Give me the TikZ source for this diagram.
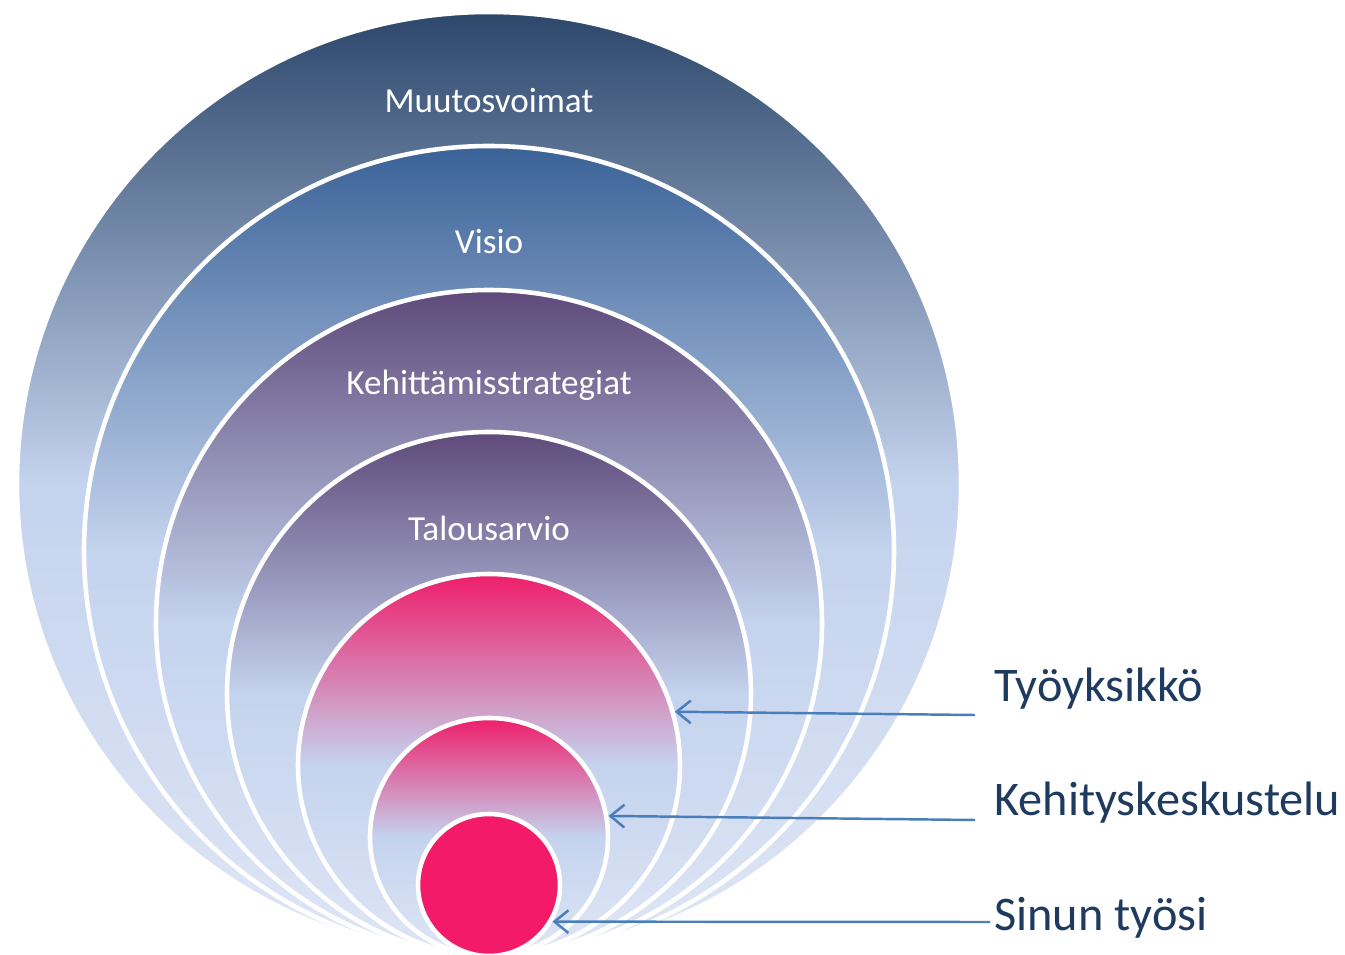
\documentclass[tikz,border=0pt]{standalone}
\usepackage{fontspec}
\setmainfont{Carlito}
\usepackage{xcolor}
\usetikzlibrary{arrows.meta,positioning}
\definecolor{navytop}{HTML}{2C476B}
\definecolor{bluetop}{HTML}{3A6297}
\definecolor{purpletop}{HTML}{5E4A7A}
\definecolor{pinktop}{HTML}{EE1E6B}
\definecolor{pinkdot}{HTML}{F21A69}
\definecolor{paleblue}{HTML}{C4D3EE}
\definecolor{palest}{HTML}{DFE6F5}
\definecolor{textnavy}{HTML}{1E3A5E}
\definecolor{arrowblue}{HTML}{4A7EBB}
\tikzset{
  every picture/.style = {
    x = 0.02cm,
    y = 0.02cm,
  }
  ,
  ring/.style = {
    circle,
    inner sep = 0pt,
    draw = white,
    line width = 2.6pt,
    minimum size = 2*#1*0.02cm
  }
  , % fading from the ring colour down to pale blue
  shade/.style = {
    top color = #1,
    bottom color = palest,
    middle color = paleblue
  }
  , % labels inside the rings
  label-ring/.style = {
    text = white,
    font = \fontsize{20}{24}\selectfont
  }
  , % labels on the right
  label-side/.style = {
    anchor = west,
    inner sep = 0pt,
    text = textnavy,
    font = \fontsize{27.5}{32}\selectfont
  }
  ,
  pointer/.style = {
    draw = arrowblue,
    line width = 1.4pt,
    -{Straight Barb[length=8pt,width=13pt]}
  }
}
\begin{document}
\begin{tikzpicture}
\useasboundingbox (0,0) rectangle (1345,954);
\node[ring=472, shade=navytop] at (489,470) (c1) {};
\node[ring=405, shade=bluetop] at (489,403) (c2) {};
\node[ring=333, shade=purpletop] at (489,331) (c3) {};
\node[ring=262, shade=purpletop] at (489,260) (c4) {};
\node[ring=191, shade=pinktop] at (489,189) (c5) {};
\node[ring=119, shade=pinktop] at (489,117) (c6) {};
\node[ring=71, fill=pinkdot] at (489,69) (c7) {};
% ring labels
\node[label-ring] at (489,853) (muutos) {Muutosvoimat};
\node[label-ring] at (489,712) (visio) {Visio};
\node[label-ring] at (489,569) (strat) {Kehittämisstrategiat};
\node[label-ring] at (489,426) (talous) {Talousarvio};
% side labels
\node[label-side] at (994,265) (tyo) {Työyksikkö};
\node[label-side] at (994,151) (keh) {Kehityskeskustelu};
\node[label-side] at (994,36) (sinun) {Sinun työsi};
\coordinate (a1) at (975,239);
\coordinate (a2) at (975,134);
\coordinate (a3) at (990,32);
\draw[pointer] (a1) -- (c5.16);
\draw[pointer] (a2) -- (c6.10);
\draw[pointer] (a3) -- (c7.-30);
\end{tikzpicture}
\end{document}
